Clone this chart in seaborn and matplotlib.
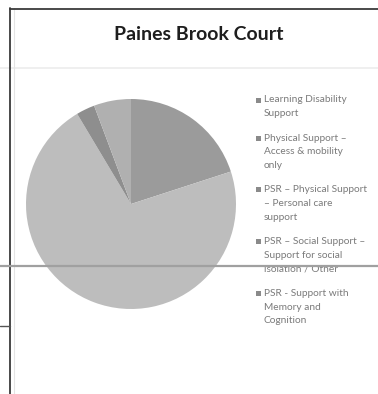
import matplotlib
matplotlib.use("Agg")
import matplotlib.pyplot as plt
from matplotlib.lines import Line2D
from matplotlib.patches import Rectangle
import seaborn as sns

# ---- data ----
title = "Paines Brook Court"
categories = [
    "Learning Disability\nSupport",
    "Physical Support \u2013\nAccess & mobility\nonly",
    "PSR \u2013 Physical Support\n\u2013 Personal care\nsupport",
    "PSR \u2013 Social Support \u2013\nSupport for social\nisolation / Other",
    "PSR - Support with\nMemory and\nCognition",
]
values = [7, 0, 25, 1, 2]
slice_colors = ["#9b9b9b", "#a4a4a4", "#bdbdbd", "#8e8e8e", "#b0b0b0"]

sns.set_theme(style="white")
plt.rcParams["font.family"] = ["Lato", "DejaVu Sans"]

W, H = 378, 394
fig = plt.figure(figsize=(W / 100, H / 100), dpi=100)
fig.patch.set_facecolor("white")

# pie axes: centre (131, 204) px, radius 105 px
cx, cy, r = 131, 204, 105
ax = fig.add_axes([(cx - r) / W, 1 - (cy + r) / H, 2 * r / W, 2 * r / H])
ax.pie(values, colors=slice_colors, startangle=90, counterclock=False,
       wedgeprops=dict(linewidth=0, edgecolor="none"), radius=1.0)
ax.set_xlim(-1.0, 1.0)
ax.set_ylim(-1.0, 1.0)
ax.set_aspect("auto")
ax.axis("off")

# title
fig.text(199 / W, 1 - 34 / H, title, ha="center", va="center",
         fontsize=14, fontweight="bold", color="#1e1e1e")

# legend (manual)
y = 100.0
line_h = 13.6
gap = 11
for lab, col in zip(categories, slice_colors):
    lines = lab.split("\n")
    fig.patches.append(Rectangle((256 / W, 1 - (y + 2.5) / H), 5 / W, 5 / H,
                                 transform=fig.transFigure, facecolor="#8a8a8a",
                                 edgecolor="none", figure=fig))
    for i, ln in enumerate(lines):
        fig.text(264 / W, 1 - (y + i * line_h) / H, ln, ha="left", va="center",
                 fontsize=7.3, color="#7a7a7a")
    y += len(lines) * line_h + gap

# scan frame lines
def fline(x0, y0, x1, y1, color, lw, z=5):
    fig.add_artist(Line2D([x0 / W, x1 / W], [1 - y0 / H, 1 - y1 / H],
                          transform=fig.transFigure, color=color, lw=lw, zorder=z))

fline(0, 68, W, 68, "#ececec", 1.2)
fline(14, 8, 14, H, "#e4e4e4", 0.8)
fline(10, 9, W, 9, "#3a3a3a", 1.3)
fline(10, 8, 10, H, "#3a3a3a", 1.3)
fline(0, 326, 10, 326, "#555555", 1.0)
fline(0, 266, W, 266, "#a0a0a0", 1.6, z=10)

fig.savefig("out.png", dpi=100, facecolor="white")
